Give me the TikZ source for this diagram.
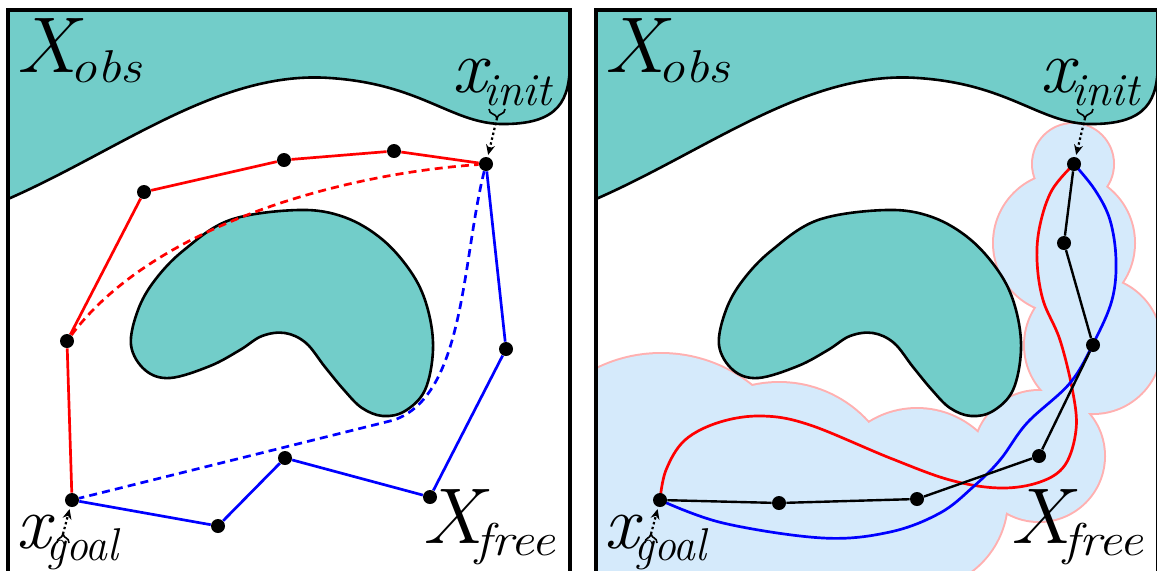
\documentclass[tikz,border=0pt]{standalone}
\usetikzlibrary{arrows.meta}
\definecolor{teal1}{RGB}{114,205,201}
\definecolor{bubblefill}{RGB}{213,234,251}
\definecolor{bubbleline}{RGB}{255,176,176}
\pgfdeclarelayer{back}
\pgfdeclarelayer{edges}
\pgfsetlayers{back,edges,main}
\newcommand\bigf{\fontsize{39.5}{42}\selectfont\itshape}
\newcommand\midf{\fontsize{38}{40}\selectfont\itshape}
\newcommand\subf{\fontsize{23}{26}\selectfont\itshape}
\tikzset{
  obst/.style={fill=teal1, draw=black, line width=1.3pt},
  obline/.style={draw=black, line width=1.3pt},
  wall/.style={draw=black, line width=1.8pt},
  dot/.style={circle, fill=black, inner sep=0pt, minimum size=7pt},
  redl/.style={draw=red, line width=1.35pt},
  bluel/.style={draw=blue, line width=1.35pt},
  blackl/.style={draw=black, line width=1.2pt},
  dashedl/.style={dash pattern=on 4pt off 2.6pt},
  ptr/.style={line width=1.1pt, dash pattern=on 1.2pt off 1.3pt, -{Stealth[length=5pt,width=4.5pt]}, shorten >=1pt},
  tipl/.style={line width=0.8pt},
  lbl/.style={inner sep=0pt, anchor=base west},
}
\newcommand\panelbase[1]{%
  \begin{pgfonlayer}{back}
    \fill[teal1] (8,10) -- (8,199) .. controls (120,150) and (220,70) .. (330,78) .. controls (420,84) and (450,122) .. (500,124) .. controls (560,125) and (570,100) .. (570,60) -- (570,10) -- cycle;
    \draw[obline] (8,199) .. controls (120,150) and (220,70) .. (330,78) .. controls (420,84) and (450,122) .. (500,124) .. controls (560,125) and (570,100) .. (570,60);
    \draw[obst] plot[smooth cycle, tension=0.6] coordinates {(298,210) (344,217) (383,240) (413,275) (428,310) (433,350) (425,390) (405,411) (383,416) (362,408) (344,390) (325,367) (306,343) (285,333) (262,336) (240,350) (210,366) (170,378) (145,370) (131,345) (138,310) (155,280) (184,250) (230,220)};
  \end{pgfonlayer}
  \draw[wall] (8,585) -- (8,10) -- (570,10) -- (570,585);
  \node[dot] (#1i) at (486,164) {};
  \node[dot] (#1g) at (72,500) {};
  \node[lbl] (#1obs) at (16,72) {\bigf\scalebox{1.05}[1]{X}\kern-3pt\raisebox{-5pt}{\subf\scalebox{1.15}[1]{obs}}};
  \node[lbl] (#1init) at (452,92) {\midf x\kern-1.5pt\raisebox{-6.5pt}{\subf init}};
  \node[lbl] (#1goal) at (16,548) {\midf x\kern-2pt\raisebox{-6pt}{\subf\scalebox{0.95}[1]{goal}}};
  \node[lbl] (#1free) at (422,543) {\bigf\scalebox{1.05}[1]{X}\kern-3.5pt\raisebox{-6pt}{\subf\scalebox{1.15}[1]{free}}};
  \draw[tipl] (489,109) .. controls (489,115) and (496,113) .. (497,118) coordinate (#1ib) .. controls (498,113) and (505,115) .. (505,109);
  \draw[ptr] (#1ib) -- (#1i);
  \draw[tipl] (57,543) .. controls (57,537) and (62,539) .. (63,534) coordinate (#1gb) .. controls (64,539) and (69,537) .. (69,543);
  \draw[ptr] (#1gb) -- (#1g);
}
\begin{document}
\begin{tikzpicture}[x=0.5pt,y=-0.5pt]
\useasboundingbox (0,0) rectangle (1157,570);
% ---------------- left panel ----------------
\panelbase{l}
\node[dot] (l1) at (394,151) {};
\node[dot] (l2) at (284,160) {};
\node[dot] (l3) at (144,192) {};
\node[dot] (l4) at (67,341) {};
\node[dot] (l5) at (506,349) {};
\node[dot] (l6) at (430,497) {};
\node[dot] (l7) at (285,458) {};
\node[dot] (l8) at (218,526) {};
\begin{pgfonlayer}{edges}
  \draw[redl] (li) -- (l1) -- (l2) -- (l3) -- (l4) -- (lg);
  \draw[bluel] (li) -- (l5) -- (l6) -- (l7) -- (l8) -- (lg);
  \draw[redl, dashedl] (l4) .. controls (150,230) and (330,175) .. (li);
  \draw[bluel, dashedl] (li) .. controls (462,260) and (465,395) .. (394,420) -- (lg);
\end{pgfonlayer}
% ---------------- right panel ----------------
\begin{scope}[xshift=294pt]
  \begin{pgfonlayer}{back}
    \begin{scope}
      \clip (8,10) rectangle (570,585);
      \foreach \cx/\cy/\r in {485/164/20, 476/243/35, 505/345/34, 451/456/32.5, 329/499/45, 191/503/60, 73/499/72.5}
        \draw[draw=bubbleline, line width=2pt, fill=bubblefill] (\cx,\cy) circle[radius=\r pt];
      \foreach \cx/\cy/\r in {485/164/20, 476/243/35, 505/345/34, 451/456/32.5, 329/499/45, 191/503/60, 73/499/72.5}
        \fill[bubblefill] (\cx,\cy) circle[radius=\r pt];
    \end{scope}
  \end{pgfonlayer}
  \panelbase{r}
  \node[dot] (r2) at (476,243) {};
  \node[dot] (r3) at (505,345) {};
  \node[dot] (r4) at (451,456) {};
  \node[dot] (r5) at (329,499) {};
  \node[dot] (r6) at (191,503) {};
  \begin{pgfonlayer}{edges}
    \draw[redl] plot[smooth, tension=0.6] coordinates {(rg.center) (78,470) (97,440) (132,422) (175,416) (222,425) (302,458) (362,480) (412,488) (452,482) (477,465) (488,430) (485,393) (472,340) (455,300) (449,260) (452,225) (464,190) (ri.center)};
    \draw[bluel] plot[smooth, tension=0.6] coordinates {(rg.center) (135,523) (235,538) (302,532) (352,513) (385,487) (412,460) (439,423) (482,383) (506,342) (524,300) (528,260) (522,220) (507,190) (ri.center)};
    \draw[blackl] (rg) -- (r6) -- (r5) -- (r4) -- (r3) -- (r2) -- (ri);
  \end{pgfonlayer}
\end{scope}
\end{tikzpicture}
\end{document}
